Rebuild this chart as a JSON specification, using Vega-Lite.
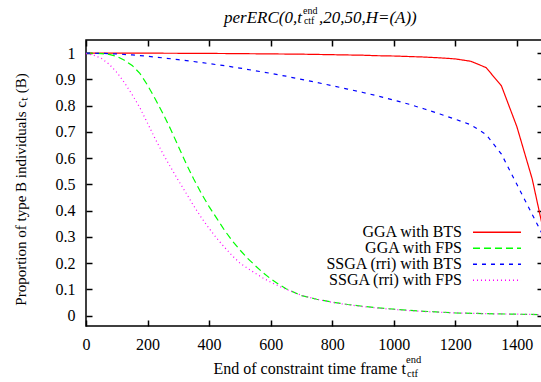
{
  "$schema": "https://vega.github.io/schema/vega-lite/v6.json",
  "width": 457,
  "height": 286,
  "autosize": {"type": "none"},
  "padding": {"left": 86, "top": 40, "right": 0, "bottom": 56},
  "background": "white",
  "title": {
    "text": "perERC(0,t\u2003,20,50,H=(A))",
    "font": "Liberation Serif",
    "fontSize": 17,
    "fontStyle": "italic",
    "fontWeight": "normal",
    "color": "black",
    "anchor": "start",
    "frame": "group",
    "dx": 138,
    "offset": -34.5,
    "baseline": "alphabetic"
  },
  "datasets": {
    "curves": [
      {"series": "GGA with BTS", "x": 0, "y": 1.0},
      {"series": "GGA with BTS", "x": 50, "y": 1.0},
      {"series": "GGA with BTS", "x": 100, "y": 1.0},
      {"series": "GGA with BTS", "x": 150, "y": 1.0},
      {"series": "GGA with BTS", "x": 200, "y": 0.9998},
      {"series": "GGA with BTS", "x": 250, "y": 0.9996},
      {"series": "GGA with BTS", "x": 300, "y": 0.9994},
      {"series": "GGA with BTS", "x": 350, "y": 0.999},
      {"series": "GGA with BTS", "x": 400, "y": 0.9988},
      {"series": "GGA with BTS", "x": 450, "y": 0.9985},
      {"series": "GGA with BTS", "x": 500, "y": 0.998},
      {"series": "GGA with BTS", "x": 550, "y": 0.9975},
      {"series": "GGA with BTS", "x": 600, "y": 0.997},
      {"series": "GGA with BTS", "x": 650, "y": 0.9965},
      {"series": "GGA with BTS", "x": 700, "y": 0.996},
      {"series": "GGA with BTS", "x": 750, "y": 0.995},
      {"series": "GGA with BTS", "x": 800, "y": 0.994},
      {"series": "GGA with BTS", "x": 850, "y": 0.993},
      {"series": "GGA with BTS", "x": 900, "y": 0.992},
      {"series": "GGA with BTS", "x": 950, "y": 0.99},
      {"series": "GGA with BTS", "x": 1000, "y": 0.989},
      {"series": "GGA with BTS", "x": 1050, "y": 0.987},
      {"series": "GGA with BTS", "x": 1100, "y": 0.985},
      {"series": "GGA with BTS", "x": 1150, "y": 0.982},
      {"series": "GGA with BTS", "x": 1200, "y": 0.978},
      {"series": "GGA with BTS", "x": 1250, "y": 0.969},
      {"series": "GGA with BTS", "x": 1300, "y": 0.945},
      {"series": "GGA with BTS", "x": 1350, "y": 0.875},
      {"series": "GGA with BTS", "x": 1400, "y": 0.72},
      {"series": "GGA with BTS", "x": 1450, "y": 0.52},
      {"series": "GGA with BTS", "x": 1500, "y": 0.25},

      {"series": "GGA with FPS", "x": 0, "y": 1.0},
      {"series": "GGA with FPS", "x": 25, "y": 0.9995},
      {"series": "GGA with FPS", "x": 50, "y": 0.998},
      {"series": "GGA with FPS", "x": 75, "y": 0.995},
      {"series": "GGA with FPS", "x": 100, "y": 0.988},
      {"series": "GGA with FPS", "x": 125, "y": 0.973},
      {"series": "GGA with FPS", "x": 150, "y": 0.953},
      {"series": "GGA with FPS", "x": 175, "y": 0.923},
      {"series": "GGA with FPS", "x": 200, "y": 0.878},
      {"series": "GGA with FPS", "x": 225, "y": 0.825},
      {"series": "GGA with FPS", "x": 250, "y": 0.77},
      {"series": "GGA with FPS", "x": 275, "y": 0.71},
      {"series": "GGA with FPS", "x": 300, "y": 0.645},
      {"series": "GGA with FPS", "x": 325, "y": 0.58},
      {"series": "GGA with FPS", "x": 350, "y": 0.52},
      {"series": "GGA with FPS", "x": 375, "y": 0.465},
      {"series": "GGA with FPS", "x": 400, "y": 0.415},
      {"series": "GGA with FPS", "x": 425, "y": 0.37},
      {"series": "GGA with FPS", "x": 450, "y": 0.325},
      {"series": "GGA with FPS", "x": 475, "y": 0.285},
      {"series": "GGA with FPS", "x": 500, "y": 0.25},
      {"series": "GGA with FPS", "x": 525, "y": 0.218},
      {"series": "GGA with FPS", "x": 550, "y": 0.19},
      {"series": "GGA with FPS", "x": 575, "y": 0.163},
      {"series": "GGA with FPS", "x": 600, "y": 0.14},
      {"series": "GGA with FPS", "x": 625, "y": 0.12},
      {"series": "GGA with FPS", "x": 650, "y": 0.102},
      {"series": "GGA with FPS", "x": 700, "y": 0.076},
      {"series": "GGA with FPS", "x": 750, "y": 0.062},
      {"series": "GGA with FPS", "x": 800, "y": 0.051},
      {"series": "GGA with FPS", "x": 850, "y": 0.042},
      {"series": "GGA with FPS", "x": 900, "y": 0.035},
      {"series": "GGA with FPS", "x": 950, "y": 0.029},
      {"series": "GGA with FPS", "x": 1000, "y": 0.024},
      {"series": "GGA with FPS", "x": 1100, "y": 0.016},
      {"series": "GGA with FPS", "x": 1200, "y": 0.01},
      {"series": "GGA with FPS", "x": 1300, "y": 0.007},
      {"series": "GGA with FPS", "x": 1400, "y": 0.005},
      {"series": "GGA with FPS", "x": 1500, "y": 0.003},

      {"series": "SSGA (rri) with BTS", "x": 0, "y": 1.0},
      {"series": "SSGA (rri) with BTS", "x": 50, "y": 0.999},
      {"series": "SSGA (rri) with BTS", "x": 100, "y": 0.997},
      {"series": "SSGA (rri) with BTS", "x": 150, "y": 0.993},
      {"series": "SSGA (rri) with BTS", "x": 200, "y": 0.988},
      {"series": "SSGA (rri) with BTS", "x": 250, "y": 0.982},
      {"series": "SSGA (rri) with BTS", "x": 300, "y": 0.975},
      {"series": "SSGA (rri) with BTS", "x": 350, "y": 0.968},
      {"series": "SSGA (rri) with BTS", "x": 400, "y": 0.96},
      {"series": "SSGA (rri) with BTS", "x": 450, "y": 0.952},
      {"series": "SSGA (rri) with BTS", "x": 500, "y": 0.943},
      {"series": "SSGA (rri) with BTS", "x": 550, "y": 0.933},
      {"series": "SSGA (rri) with BTS", "x": 600, "y": 0.923},
      {"series": "SSGA (rri) with BTS", "x": 650, "y": 0.912},
      {"series": "SSGA (rri) with BTS", "x": 700, "y": 0.9},
      {"series": "SSGA (rri) with BTS", "x": 750, "y": 0.888},
      {"series": "SSGA (rri) with BTS", "x": 800, "y": 0.876},
      {"series": "SSGA (rri) with BTS", "x": 850, "y": 0.863},
      {"series": "SSGA (rri) with BTS", "x": 900, "y": 0.85},
      {"series": "SSGA (rri) with BTS", "x": 950, "y": 0.836},
      {"series": "SSGA (rri) with BTS", "x": 1000, "y": 0.821},
      {"series": "SSGA (rri) with BTS", "x": 1050, "y": 0.805},
      {"series": "SSGA (rri) with BTS", "x": 1100, "y": 0.787},
      {"series": "SSGA (rri) with BTS", "x": 1150, "y": 0.768},
      {"series": "SSGA (rri) with BTS", "x": 1200, "y": 0.748},
      {"series": "SSGA (rri) with BTS", "x": 1250, "y": 0.727},
      {"series": "SSGA (rri) with BTS", "x": 1300, "y": 0.69},
      {"series": "SSGA (rri) with BTS", "x": 1350, "y": 0.615},
      {"series": "SSGA (rri) with BTS", "x": 1400, "y": 0.5},
      {"series": "SSGA (rri) with BTS", "x": 1450, "y": 0.385},
      {"series": "SSGA (rri) with BTS", "x": 1500, "y": 0.27},

      {"series": "SSGA (rri) with FPS", "x": 0, "y": 0.998},
      {"series": "SSGA (rri) with FPS", "x": 25, "y": 0.992},
      {"series": "SSGA (rri) with FPS", "x": 50, "y": 0.98},
      {"series": "SSGA (rri) with FPS", "x": 75, "y": 0.958},
      {"series": "SSGA (rri) with FPS", "x": 100, "y": 0.927},
      {"series": "SSGA (rri) with FPS", "x": 125, "y": 0.887},
      {"series": "SSGA (rri) with FPS", "x": 150, "y": 0.842},
      {"series": "SSGA (rri) with FPS", "x": 175, "y": 0.792},
      {"series": "SSGA (rri) with FPS", "x": 200, "y": 0.733},
      {"series": "SSGA (rri) with FPS", "x": 225, "y": 0.673},
      {"series": "SSGA (rri) with FPS", "x": 250, "y": 0.617},
      {"series": "SSGA (rri) with FPS", "x": 275, "y": 0.565},
      {"series": "SSGA (rri) with FPS", "x": 300, "y": 0.515},
      {"series": "SSGA (rri) with FPS", "x": 325, "y": 0.467},
      {"series": "SSGA (rri) with FPS", "x": 350, "y": 0.418},
      {"series": "SSGA (rri) with FPS", "x": 375, "y": 0.373},
      {"series": "SSGA (rri) with FPS", "x": 400, "y": 0.332},
      {"series": "SSGA (rri) with FPS", "x": 425, "y": 0.294},
      {"series": "SSGA (rri) with FPS", "x": 450, "y": 0.26},
      {"series": "SSGA (rri) with FPS", "x": 475, "y": 0.228},
      {"series": "SSGA (rri) with FPS", "x": 500, "y": 0.2},
      {"series": "SSGA (rri) with FPS", "x": 525, "y": 0.18},
      {"series": "SSGA (rri) with FPS", "x": 550, "y": 0.161},
      {"series": "SSGA (rri) with FPS", "x": 575, "y": 0.143},
      {"series": "SSGA (rri) with FPS", "x": 600, "y": 0.127},
      {"series": "SSGA (rri) with FPS", "x": 625, "y": 0.113},
      {"series": "SSGA (rri) with FPS", "x": 650, "y": 0.1},
      {"series": "SSGA (rri) with FPS", "x": 700, "y": 0.077},
      {"series": "SSGA (rri) with FPS", "x": 750, "y": 0.062},
      {"series": "SSGA (rri) with FPS", "x": 800, "y": 0.05},
      {"series": "SSGA (rri) with FPS", "x": 850, "y": 0.041},
      {"series": "SSGA (rri) with FPS", "x": 900, "y": 0.034},
      {"series": "SSGA (rri) with FPS", "x": 950, "y": 0.028},
      {"series": "SSGA (rri) with FPS", "x": 1000, "y": 0.023},
      {"series": "SSGA (rri) with FPS", "x": 1100, "y": 0.015},
      {"series": "SSGA (rri) with FPS", "x": 1200, "y": 0.01},
      {"series": "SSGA (rri) with FPS", "x": 1300, "y": 0.007},
      {"series": "SSGA (rri) with FPS", "x": 1400, "y": 0.005},
      {"series": "SSGA (rri) with FPS", "x": 1500, "y": 0.003}
    ]
  },
  "layer": [
    {
      "data": {"name": "curves"},
      "mark": {"type": "line", "strokeWidth": 1.2, "clip": true},
      "encoding": {
        "x": {
          "field": "x", "type": "quantitative",
          "scale": {"domain": [0, 1485], "nice": false, "zero": false},
          "axis": {
            "orient": "bottom",
            "values": [0, 200, 400, 600, 800, 1000, 1200, 1400],
            "format": "d",
            "grid": false, "domain": false,
            "tickSize": -6, "tickWidth": 1.5, "tickColor": "black",
            "labelPadding": 29, "labelBaseline": "alphabetic", "labelFlush": false,
            "labelFont": "Liberation Serif", "labelFontSize": 16, "labelColor": "black",
            "title": "End of constraint time frame t",
            "titleFont": "Liberation Serif", "titleFontSize": 16, "titleFontWeight": "normal", "titleColor": "black",
            "titleX": 127, "titleY": 47, "titleAlign": "left", "titleBaseline": "alphabetic"
          }
        },
        "y": {
          "field": "y", "type": "quantitative",
          "scale": {"domain": [-0.04, 1.05], "nice": false, "zero": false},
          "axis": {
            "orient": "left",
            "values": [0, 0.1, 0.2, 0.3, 0.4, 0.5, 0.6, 0.7, 0.8, 0.9, 1],
            "format": "~g",
            "grid": false, "domain": false,
            "tickSize": -6, "tickWidth": 1.5, "tickColor": "black",
            "labelPadding": 17, "labelBaseline": "middle",
            "labelFont": "Liberation Serif", "labelFontSize": 16, "labelColor": "black",
            "title": "Proportion of type B individuals c\u209c (B)",
            "titleFont": "Liberation Serif", "titleFontSize": 15, "titleFontWeight": "normal", "titleColor": "black",
            "titleAngle": 270, "titleX": -61, "titleY": 149, "titleAlign": "center", "titleBaseline": "alphabetic"
          }
        },
        "color": {
          "field": "series", "type": "nominal",
          "scale": {
            "domain": ["GGA with BTS", "GGA with FPS", "SSGA (rri) with BTS", "SSGA (rri) with FPS"],
            "range": ["#ff0000", "#00ff00", "#0000ff", "#ff00ff"]
          },
          "legend": {
            "orient": "none", "legendX": 389, "legendY": 184.2, "title": null,
            "symbolType": "M-3.43,0H3.43", "symbolSize": 196, "symbolStrokeWidth": 1.5, "symbolOffset": 14,
            "labelAlign": "right", "labelOffset": -43,
            "labelFont": "Liberation Serif", "labelFontSize": 16, "labelColor": "black", "labelLimit": 300,
            "rowPadding": 0, "padding": 0
          }
        },
        "strokeDash": {
          "field": "series", "type": "nominal",
          "scale": {
            "domain": ["GGA with BTS", "GGA with FPS", "SSGA (rri) with BTS", "SSGA (rri) with FPS"],
            "range": [[1, 0], [7, 4], [4, 5], [1, 3]]
          },
          "legend": {
            "orient": "none", "legendX": 389, "legendY": 184.2, "title": null,
            "symbolType": "M-3.43,0H3.43", "symbolSize": 196, "symbolStrokeWidth": 1.5, "symbolOffset": 14,
            "labelAlign": "right", "labelOffset": -43,
            "labelFont": "Liberation Serif", "labelFontSize": 16, "labelColor": "black", "labelLimit": 300,
            "rowPadding": 0, "padding": 0
          }
        }
      }
    },
    {
      "data": {"name": "curves"},
      "mark": {"type": "line", "opacity": 0, "clip": true},
      "encoding": {
        "detail": {"field": "series"},
        "x": {
          "field": "x", "type": "quantitative",
          "scale": {"domain": [0, 1485], "nice": false, "zero": false},
          "axis": {
            "orient": "top", "values": [0, 200, 400, 600, 800, 1000, 1200, 1400],
            "grid": false, "domain": false, "labels": false, "title": null,
            "tickSize": -6, "tickWidth": 1.5, "tickColor": "black"
          }
        },
        "y": {
          "field": "y", "type": "quantitative",
          "scale": {"domain": [-0.04, 1.05], "nice": false, "zero": false},
          "axis": {
            "orient": "right", "values": [0, 0.1, 0.2, 0.3, 0.4, 0.5, 0.6, 0.7, 0.8, 0.9, 1],
            "grid": false, "domain": false, "labels": false, "title": null,
            "tickSize": -6, "tickWidth": 1.5, "tickColor": "black"
          }
        }
      }
    },
    {
      "data": {"values": [{"s": "end"}]},
      "mark": {"type": "text", "font": "Liberation Serif", "fontSize": 10, "align": "left", "baseline": "middle", "color": "black"},
      "encoding": {
        "x": {"datum": 705, "type": "quantitative", "axis": null},
        "y": {"datum": 1.1624, "type": "quantitative", "axis": null},
        "text": {"field": "s"}
      }
    },
    {
      "data": {"values": [{"s": "ctf"}]},
      "mark": {"type": "text", "font": "Liberation Serif", "fontSize": 10, "align": "left", "baseline": "middle", "color": "black"},
      "encoding": {
        "x": {"datum": 708, "type": "quantitative", "axis": null},
        "y": {"datum": 1.1224, "type": "quantitative", "axis": null},
        "text": {"field": "s"}
      }
    },
    {
      "data": {"values": [{"s": "end"}]},
      "mark": {"type": "text", "font": "Liberation Serif", "fontSize": 10.5, "align": "left", "baseline": "middle", "color": "black"},
      "encoding": {
        "x": {"datum": 1040, "type": "quantitative", "axis": null},
        "y": {"datum": -0.1696, "type": "quantitative", "axis": null},
        "text": {"field": "s"}
      }
    },
    {
      "data": {"values": [{"s": "ctf"}]},
      "mark": {"type": "text", "font": "Liberation Serif", "fontSize": 10.5, "align": "left", "baseline": "middle", "color": "black"},
      "encoding": {
        "x": {"datum": 1043, "type": "quantitative", "axis": null},
        "y": {"datum": -0.2229, "type": "quantitative", "axis": null},
        "text": {"field": "s"}
      }
    }
  ],
  "resolve": {"axis": {"x": "independent", "y": "independent"}},
  "config": {
    "view": {"stroke": "black", "strokeWidth": 1.5},
    "text": {"font": "Liberation Serif"},
    "style": {"guide-label": {"lineHeight": 15.7}}
  }
}
